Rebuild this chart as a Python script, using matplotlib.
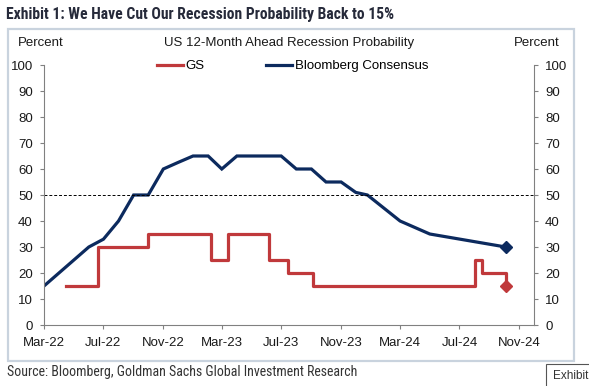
import pandas as pd
import matplotlib.pyplot as plt
import matplotlib.dates as mdates
from matplotlib.patches import Rectangle

plt.rcParams['font.family'] = ['Liberation Sans', 'DejaVu Sans']
narrow = ['Roboto Condensed', 'Saira SemiCondensed', 'DejaVu Sans']

# GS recession probability (step changes)
gs_dates = ['2022-04-15', '2022-06-20', '2022-10-01', '2023-02-07', '2023-03-13', '2023-06-05',
            '2023-07-15', '2023-09-04', '2024-08-01', '2024-08-17', '2024-10-04']
gs_values = [15, 30, 35, 25, 35, 25, 20, 15, 25, 20, 15]

# Bloomberg consensus
bb_dates = ['2022-03-01', '2022-06-01', '2022-07-01', '2022-08-01', '2022-09-01', '2022-10-01',
            '2022-11-01', '2022-12-01', '2023-01-01', '2023-02-01', '2023-03-01', '2023-04-01',
            '2023-05-01', '2023-06-01', '2023-07-01', '2023-08-01', '2023-09-01', '2023-10-01',
            '2023-11-01', '2023-12-01', '2023-12-25', '2024-03-01', '2024-05-01', '2024-10-04']
bb_values = [15, 30, 33, 40, 50, 50, 60, 62.5, 65, 65, 60, 65, 65, 65, 65, 60, 60, 55,
             55, 51, 50, 40, 35, 30]

tick_dates = ['2022-03-01', '2022-07-01', '2022-11-01', '2023-03-01', '2023-07-01',
              '2023-11-01', '2024-03-01', '2024-07-01', '2024-11-01']

gs = pd.Series(gs_values, index=pd.to_datetime(gs_dates))
bb = pd.Series(bb_values, index=pd.to_datetime(bb_dates))

red = '#c0393b'
navy = '#0c2a5e'
grey = '#808080'

fig = plt.figure(figsize=(5.89, 3.86), dpi=100)
fig.patch.set_facecolor('white')

# chart frame
fig.patches.append(Rectangle((8 / 589, 1 - 361 / 386), 566 / 589, 332 / 386, transform=fig.transFigure,
                             fill=False, edgecolor='#c9d3de', lw=1.6))

ax = fig.add_axes([44 / 589, 61 / 386, 490 / 589, 260 / 386])
ax.plot(bb.index, bb.values, color=navy, lw=2.3, label='Bloomberg Consensus', solid_joinstyle='miter')
ax.plot(gs.index, gs.values, color=red, lw=2.3, drawstyle='steps-post', label='GS')
ax.plot(bb.index[-1:], bb.values[-1:], marker='D', color=navy, ms=6, ls='none')
ax.plot(gs.index[-1:], gs.values[-1:], marker='D', color=red, ms=6, ls='none')
ax.axhline(50, color='black', lw=0.7, ls=(0, (3, 2)))

ax.set_ylim(0, 100)
ax.set_yticks(range(0, 101, 10))
ax.set_xlim(pd.Timestamp('2022-03-01'), pd.Timestamp('2024-12-01'))
ax.set_xticks(pd.to_datetime(tick_dates))
ax.xaxis.set_major_formatter(mdates.DateFormatter('%b-%y'))

ax.spines['top'].set_visible(False)
for s in ['left', 'right', 'bottom']:
    ax.spines[s].set_color(grey)
ax.tick_params(axis='both', direction='out', length=3, color=grey, labelsize=9.5, labelcolor='#1a1a1a')
ax.tick_params(axis='y', left=True, right=True, labelleft=True, labelright=True, pad=5)
ax.tick_params(axis='x', pad=6)

handles, labels = ax.get_legend_handles_labels()
leg = ax.legend(handles[::-1], labels[::-1], loc='center', bbox_to_anchor=(0.507, 0.995), ncol=2,
                frameon=False, fontsize=9.5, handlelength=2.0, handletextpad=0.2, columnspacing=4.6)

fig.text(18 / 589, 1 - 43 / 386, 'Percent', fontsize=9.5, va='center', ha='left', color='#1a1a1a')
fig.text(560 / 589, 1 - 43 / 386, 'Percent', fontsize=9.5, va='center', ha='right', color='#1a1a1a')
fig.text(289 / 589, 1 - 43 / 386, 'US 12-Month Ahead Recession Probability', fontsize=9.5,
         va='center', ha='center', color='#1a1a1a')

title = fig.text(6 / 589, 1 - 15 / 386, 'Exhibit 1: We Have Cut Our Recession Probability Back to 15%',
                 fontsize=11.5, fontweight='bold', family=narrow,
                 color='#262a3a', va='center', ha='left')
source = fig.text(7 / 589, 1 - 372 / 386, 'Source: Bloomberg, Goldman Sachs Global Investment Research',
                  fontsize=9.5, family=narrow, color='#333333', va='center', ha='left')

# fit the condensed texts to the widths seen in the reference
renderer = fig.canvas.get_renderer()
for t, target in [(title, 389), (source, 353)]:
    w = t.get_window_extent(renderer).width
    t.set_fontsize(t.get_fontsize() * target / w)

fig.patches.append(Rectangle((546 / 589, -0.05), 0.2, (386 - 364) / 386 + 0.05, transform=fig.transFigure,
                             facecolor='white', edgecolor='#555555', lw=0.8))
fig.text(553 / 589, 1 - 376 / 386, 'Exhibit', fontsize=8.5, color='#333333', va='center', ha='left')

fig.savefig('out.png', dpi=100)
